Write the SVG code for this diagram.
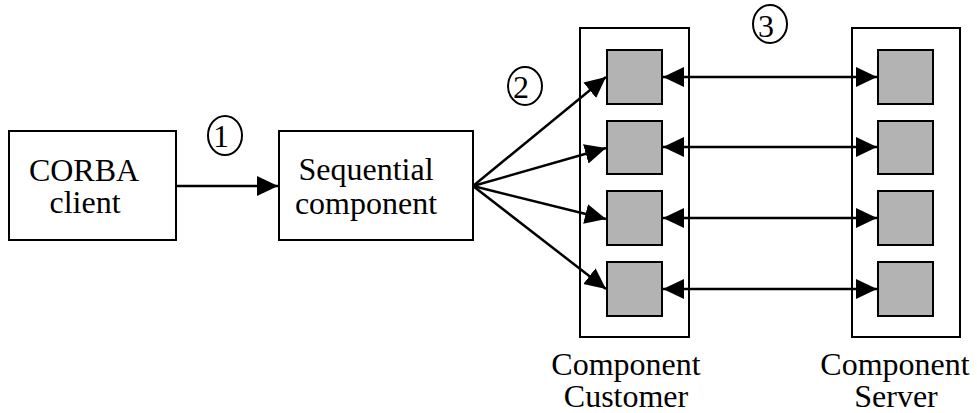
<svg xmlns="http://www.w3.org/2000/svg" width="977" height="413" viewBox="0 0 977 413">
  <style>
    .box { fill: #ffffff; stroke: #000000; stroke-width: 2; }
    .port { fill: #b3b3b3; stroke: #000000; stroke-width: 2; }
    .lbl { font-family: "Liberation Serif", "Times New Roman", serif; font-size: 32px; fill: #000000; text-anchor: middle; }
    .num { font-family: "Liberation Serif", "Times New Roman", serif; font-size: 32px; fill: #000000; text-anchor: middle; }
    .step { fill: none; stroke: #000000; stroke-width: 2; }
    .conn { fill: none; stroke: #000000; stroke-width: 2.5; }
  </style>
  <defs>
    <marker id="head" markerUnits="userSpaceOnUse" markerWidth="22" markerHeight="21" refX="21" refY="10" orient="auto-start-reverse" viewBox="0 0 22 21">
      <path d="M0,0 L21,10 L0,20 z" fill="#000000"/>
    </marker>
  </defs>
  <rect width="977" height="413" fill="#ffffff"/>

  <!-- step markers -->
  <g id="step1">
    <ellipse class="step" cx="225" cy="135.5" rx="17" ry="19.5"/>
    <text class="num" x="221" y="147">1</text>
  </g>
  <g id="step2">
    <ellipse class="step" cx="525" cy="86" rx="17" ry="19"/>
    <text class="num" x="521" y="98">2</text>
  </g>
  <g id="step3">
    <ellipse class="step" cx="770" cy="24" rx="17" ry="19"/>
    <text class="num" x="766" y="37">3</text>
  </g>

  <!-- CORBA client -->
  <g id="corba-client">
    <rect class="box" x="9" y="131" width="167" height="109"/>
    <text class="lbl" x="84" y="181">CORBA</text>
    <text class="lbl" x="85" y="213">client</text>
  </g>

  <!-- Sequential component -->
  <g id="sequential-component">
    <rect class="box" x="279" y="131" width="194" height="109"/>
    <text class="lbl" x="366" y="180">Sequential</text>
    <text class="lbl" x="366" y="214">component</text>
  </g>

  <!-- Component Customer -->
  <g id="component-customer">
    <rect class="box" x="580" y="28" width="109" height="309"/>
    <rect class="port" x="607" y="50" width="55" height="54"/>
    <rect class="port" x="607" y="121" width="55" height="53"/>
    <rect class="port" x="607" y="191" width="55" height="54"/>
    <rect class="port" x="607" y="262" width="55" height="54"/>
    <text class="lbl" x="626" y="375">Component</text>
    <text class="lbl" x="626" y="407">Customer</text>
  </g>

  <!-- Component Server -->
  <g id="component-server">
    <rect class="box" x="852" y="28" width="108" height="309"/>
    <rect class="port" x="878" y="50" width="55" height="54"/>
    <rect class="port" x="878" y="121" width="55" height="53"/>
    <rect class="port" x="878" y="191" width="55" height="54"/>
    <rect class="port" x="878" y="262" width="55" height="54"/>
    <text class="lbl" x="895" y="375">Component</text>
    <text class="lbl" x="896" y="407">Server</text>
  </g>

  <!-- connectors, drawn over the containers -->
  <g id="connectors">
    <line class="conn" x1="176" y1="186" x2="278" y2="186" marker-end="url(#head)"/>
    <line class="conn" x1="473" y1="186" x2="606" y2="77" marker-end="url(#head)"/>
    <line class="conn" x1="473" y1="186" x2="606" y2="148" marker-end="url(#head)"/>
    <line class="conn" x1="473" y1="186" x2="606" y2="219" marker-end="url(#head)"/>
    <line class="conn" x1="473" y1="186" x2="606" y2="289" marker-end="url(#head)"/>
    <line class="conn" x1="663" y1="77" x2="877" y2="77" marker-start="url(#head)" marker-end="url(#head)"/>
    <line class="conn" x1="663" y1="147" x2="877" y2="147" marker-start="url(#head)" marker-end="url(#head)"/>
    <line class="conn" x1="663" y1="218" x2="877" y2="218" marker-start="url(#head)" marker-end="url(#head)"/>
    <line class="conn" x1="663" y1="289" x2="877" y2="289" marker-start="url(#head)" marker-end="url(#head)"/>
  </g>
</svg>
